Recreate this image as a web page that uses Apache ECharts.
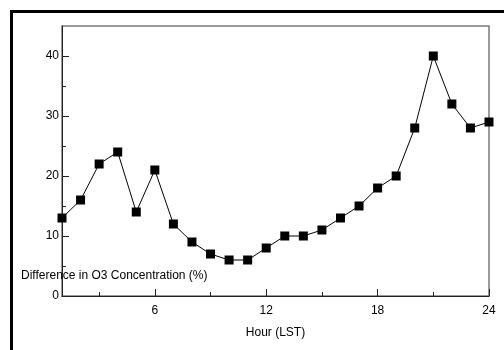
<!DOCTYPE html>
<html>
<head>
<meta charset="utf-8">
<script src="https://cdn.jsdelivr.net/npm/echarts@6/dist/echarts.min.js"></script>
<style>
  html, body { margin: 0; padding: 0; background: #fff; }
  #chart { width: 504px; height: 350px; }
</style>
</head>
<body>
<div id="chart"></div>
<script>
// Hourly difference in O3 concentration (%)
const hours = [1, 2, 3, 4, 5, 6, 7, 8, 9, 10, 11, 12, 13, 14, 15, 16, 17, 18, 19, 20, 21, 22, 23, 24];
const diffO3 = [13, 16, 22, 24, 14, 21, 12, 9, 7, 6, 6, 8, 10, 10, 11, 13, 15, 18, 20, 28, 40, 32, 28, 29];
const xMajorTicks = [6, 12, 18, 24];
const xMinorTicks = [3, 9, 15, 21];
const xLabelValues = [6, 12, 18, 24];
const yMajorTicks = [10, 20, 30, 40];
const yMinorTicks = [5, 15, 25, 35];
const yLabelValues = [0, 10, 20, 30, 40];

const FONT = '"Liberation Sans", Arial, Helvetica, sans-serif';
const AXIS_COLOR = '#222';

const chart = echarts.init(document.getElementById('chart'), null, { renderer: 'canvas' });

// base axis settings shared by the main axis and the overlay carrying the short ticks
function xAxisBase() {
  return { type: 'value', min: 1, max: 24, splitLine: { show: false }, position: 'bottom' };
}
function yAxisBase() {
  return { type: 'value', min: 0, max: 45, splitLine: { show: false }, position: 'left' };
}

chart.setOption({
  animation: false,
  backgroundColor: '#fff',
  grid: {
    left: 62, top: 26, right: 15, bottom: 54,
    show: true, borderColor: '#7a7a7a', borderWidth: 1.5, backgroundColor: 'transparent'
  },
  xAxis: [
    Object.assign(xAxisBase(), {
      name: 'Hour (LST)',
      nameLocation: 'middle',
      nameGap: 31,
      nameTextStyle: { fontFamily: FONT, fontSize: 12, color: '#000' },
      axisLine: { show: true, lineStyle: { color: AXIS_COLOR, width: 1 } },
      axisTick: { show: true, inside: true, length: 7, lineStyle: { color: AXIS_COLOR }, customValues: xMajorTicks },
      axisLabel: { fontFamily: FONT, fontSize: 12, color: '#000', margin: 9, customValues: xLabelValues }
    }),
    Object.assign(xAxisBase(), {
      axisLine: { show: false },
      axisTick: { show: true, inside: true, length: 4, lineStyle: { color: AXIS_COLOR }, customValues: xMinorTicks },
      axisLabel: { show: false }
    })
  ],
  yAxis: [
    Object.assign(yAxisBase(), {
      axisLine: { show: true, lineStyle: { color: AXIS_COLOR, width: 1 } },
      axisTick: { show: true, inside: true, length: 7, lineStyle: { color: AXIS_COLOR }, customValues: yMajorTicks },
      axisLabel: { fontFamily: FONT, fontSize: 12, color: '#000', margin: 3, customValues: yLabelValues }
    }),
    Object.assign(yAxisBase(), {
      axisLine: { show: false },
      axisTick: { show: true, inside: true, length: 4, lineStyle: { color: AXIS_COLOR }, customValues: yMinorTicks },
      axisLabel: { show: false }
    })
  ],
  graphic: [
    {
      type: 'polyline',
      shape: { points: [[11.5, 350], [11.5, 11.5], [504, 11.5]] },
      style: { stroke: '#000', lineWidth: 3, fill: null }
    },
    {
      type: 'text',
      left: 21, top: 270,
      style: { text: 'Difference in O3 Concentration (%)', font: '12px ' + FONT, fill: '#000' }
    }
  ],
  series: [{
    type: 'line',
    data: hours.map((h, i) => [h, diffO3[i]]),
    symbol: 'rect',
    symbolSize: 9,
    lineStyle: { color: '#000', width: 1 },
    itemStyle: { color: '#000' }
  }]
});
</script>
</body>
</html>
